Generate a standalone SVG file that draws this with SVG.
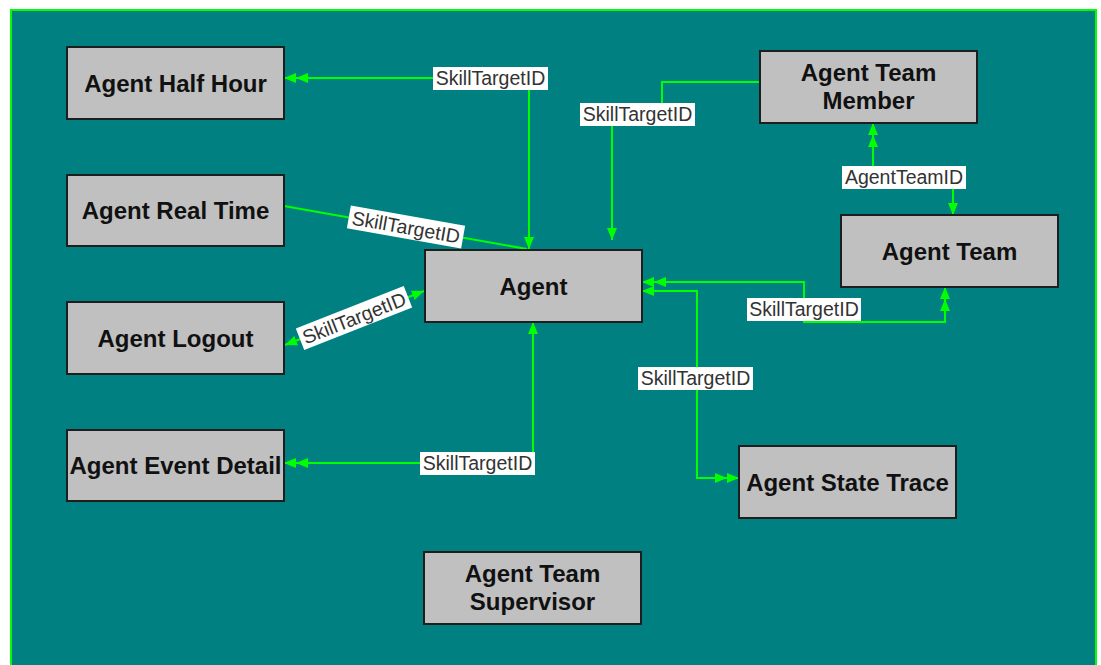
<svg xmlns="http://www.w3.org/2000/svg" width="1101" height="665" viewBox="0 0 1101 665">
<style>
.node rect{fill:#c0c0c0;stroke:#1e1e1e;stroke-width:2}
.node text{font-family:"Liberation Sans",Arial,sans-serif;font-weight:bold;font-size:24px;fill:#111;text-anchor:middle}
.conn path{fill:none;stroke:#00ff00;stroke-width:2}
.lbl rect{fill:#fff}
.lbl text{font-family:"Liberation Sans",Arial,sans-serif;font-size:19.5px;fill:#333;text-anchor:middle}
</style>
<defs>
<marker id="one" viewBox="0 0 12 10" refX="12" refY="5" markerWidth="12" markerHeight="10" markerUnits="userSpaceOnUse" orient="auto-start-reverse">
<path d="M0,0 L12,5 L0,10 Z" fill="#00ff00"/>
</marker>
<marker id="many" viewBox="0 0 24 10" refX="24" refY="5" markerWidth="24" markerHeight="10" markerUnits="userSpaceOnUse" orient="auto-start-reverse">
<path d="M0,0 L12,5 L0,10 Z M12,0 L24,5 L12,10 Z" fill="#00ff00"/>
</marker>
</defs>
<rect x="0" y="0" width="1101" height="665" fill="#fff"/>
<rect x="11" y="10" width="1085" height="670" fill="#008080" stroke="#00ff00" stroke-width="2"/>

<g id="connectors" class="conn">
<path d="M529,249 V78 H284" marker-start="url(#one)" marker-end="url(#many)"/>
<path d="M284,206 L527,249"/>
<path d="M285,345 L424,291" marker-start="url(#one)" marker-end="url(#one)"/>
<path d="M533,322 V463 H284" marker-start="url(#one)" marker-end="url(#many)"/>
<path d="M760,82 H662 V115 H612 V240" marker-end="url(#one)"/>
<path d="M873,123 V177 H953 V215" marker-start="url(#many)" marker-end="url(#one)"/>
<path d="M642,282 H804 V322 H945 V287" marker-start="url(#many)" marker-end="url(#many)"/>
<path d="M642,291 H697 V478 H739" marker-start="url(#one)" marker-end="url(#many)"/>
</g>

<g id="labels" class="lbl">
<g><rect x="433" y="67" width="115" height="23"/><text x="490.5" y="85">SkillTargetID</text></g>
<g><rect x="580" y="103" width="115" height="23"/><text x="637.5" y="121">SkillTargetID</text></g>
<g><rect x="842" y="166" width="124" height="23"/><text x="904" y="184">AgentTeamID</text></g>
<g><rect x="747" y="298" width="114" height="23"/><text x="804" y="316">SkillTargetID</text></g>
<g><rect x="638" y="367" width="115" height="23"/><text x="695.5" y="385">SkillTargetID</text></g>
<g><rect x="420" y="452" width="115" height="23"/><text x="477.5" y="470">SkillTargetID</text></g>
<g transform="translate(406,227) rotate(10)"><rect x="-58" y="-11.5" width="116" height="23"/><text x="0" y="7">SkillTargetID</text></g>
<g transform="translate(354,318) rotate(-21.5)"><rect x="-58" y="-11.5" width="116" height="23"/><text x="0" y="7">SkillTargetID</text></g>
</g>

<g id="agent-half-hour" class="node"><rect x="67" y="47" width="217" height="72"/><text x="175.5" y="91.5">Agent Half Hour</text></g>
<g id="agent-real-time" class="node"><rect x="67" y="175" width="217" height="71"/><text x="175.5" y="219">Agent Real Time</text></g>
<g id="agent-logout" class="node"><rect x="67" y="302" width="217" height="72"/><text x="175.5" y="346.5">Agent Logout</text></g>
<g id="agent-event-detail" class="node"><rect x="67" y="430" width="217" height="71"/><text x="175.5" y="474">Agent Event Detail</text></g>
<g id="agent" class="node"><rect x="425" y="250" width="217" height="72"/><text x="533.5" y="294.5">Agent</text></g>
<g id="agent-team-member" class="node"><rect x="760" y="51" width="217" height="72"/><text x="868.5" y="81">Agent Team</text><text x="868.5" y="109">Member</text></g>
<g id="agent-team" class="node"><rect x="841" y="215" width="217" height="72"/><text x="949.5" y="259.5">Agent Team</text></g>
<g id="agent-state-trace" class="node"><rect x="739" y="446" width="217" height="72"/><text x="847.5" y="490.5">Agent State Trace</text></g>
<g id="agent-team-supervisor" class="node"><rect x="424" y="552" width="217" height="72"/><text x="532.5" y="582">Agent Team</text><text x="532.5" y="610">Supervisor</text></g>
</svg>
